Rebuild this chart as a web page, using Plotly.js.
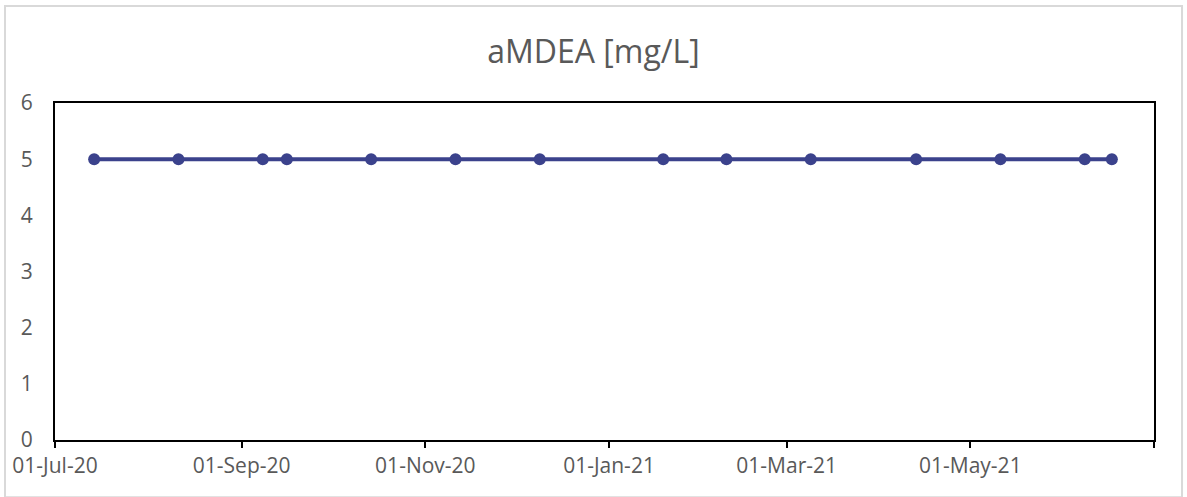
<!DOCTYPE html>
<html>
<head>
<meta charset="utf-8">
<script src="https://cdn.plot.ly/plotly-3.0.1.min.js"></script>
<style>html,body{margin:0;padding:0;background:#fff;}#chart{width:1187px;height:497px;}</style>
</head>
<body>
<div id="chart"></div>
<script>
const dates = ['2020-07-14','2020-08-11','2020-09-08','2020-09-16','2020-10-14','2020-11-11','2020-12-09',
               '2021-01-19','2021-02-09','2021-03-09','2021-04-13','2021-05-11','2021-06-08','2021-06-17'];
const values = [5,5,5,5,5,5,5,5,5,5,5,5,5,5];
const tickDates = ['2020-07-01','2020-09-01','2020-11-01','2021-01-01','2021-03-01','2021-05-01','2021-07-01'];
const tickLabels = ['01-Jul-20','01-Sep-20','01-Nov-20','01-Jan-21','01-Mar-21','01-May-21',''];
const chartTitle = 'aMDEA [mg/L]';

const fontFam = 'Open Sans, Noto Sans, sans-serif';
const trace = {
  x: dates, y: values, type: 'scatter', mode: 'lines+markers',
  line: {color: '#3B428C', width: 4},
  marker: {color: '#3B428C', size: 12},
  showlegend: false, hoverinfo: 'skip'
};
const layout = {
  width: 1187, height: 497,
  margin: {l: 55, r: 33, t: 103, b: 57},
  paper_bgcolor: '#ffffff', plot_bgcolor: '#ffffff',
  title: {text: chartTitle, x: 0.5, xanchor: 'center', y: 0.895, yanchor: 'middle', yref: 'container',
          font: {family: fontFam, size: 32, color: '#595959'}},
  xaxis: {
    type: 'date', range: ['2020-07-01', '2021-07-01'],
    tickvals: tickDates, ticktext: tickLabels,
    ticks: 'outside', ticklen: 6, tickwidth: 2, tickcolor: '#000',
    showgrid: false, zeroline: false,
    showline: true, linecolor: '#000', linewidth: 2, mirror: true,
    tickfont: {family: fontFam, size: 21, color: '#595959'}
  },
  yaxis: {
    range: [0, 6], dtick: 1, tick0: 0,
    ticks: '', showgrid: false, zeroline: false,
    showline: true, linecolor: '#000', linewidth: 2, mirror: true,
    ticklabelstandoff: 16,
    tickfont: {family: fontFam, size: 21, color: '#595959'}
  },
  shapes: [{
    type: 'rect', xref: 'paper', yref: 'paper',
    x0: -0.0455, x1: 1.0255, y0: -0.17, y1: 1.288,
    line: {color: '#d9d9d9', width: 2}, fillcolor: 'rgba(0,0,0,0)', layer: 'below'
  }]
};
Plotly.newPlot('chart', [trace], layout, {staticPlot: true, displayModeBar: false});
</script>
</body>
</html>
